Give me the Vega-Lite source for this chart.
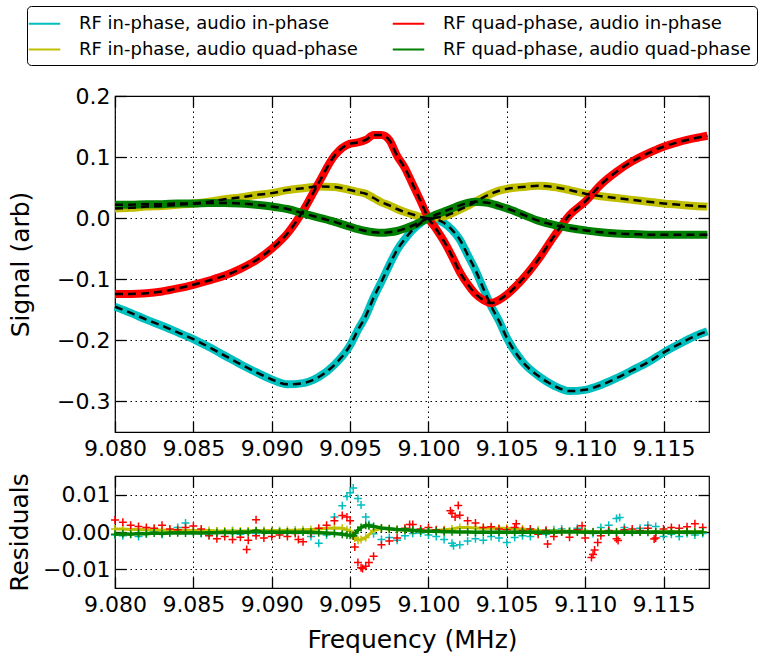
{
  "$schema": "https://vega.github.io/schema/vega-lite/v6.json",
  "padding": {"left": 6, "top": 4, "right": 0, "bottom": 0},
  "spacing": 12,
  "config": {
    "font": "DejaVu Sans",
    "view": {"stroke": "black", "strokeWidth": 1.2},
    "axis": {
      "labelFont": "DejaVu Sans", "titleFont": "DejaVu Sans",
      "labelFontSize": 22, "titleFontSize": 25, "titleFontWeight": "normal",
      "labelColor": "black", "titleColor": "black",
      "tickSize": -11, "tickColor": "black", "tickWidth": 1.3,
      "domain": false,
      "gridColor": "black", "gridDash": [1.5, 3.5], "gridOpacity": 1, "gridWidth": 1,
      "labelFlush": false, "labelOverlap": false, "labelBound": false
    },
    "legend": {"labelFont": "DejaVu Sans"}
  },
  "resolve": {"legend": {"color": "independent"}},
  "datasets": {
    "sig": [
      {"f": 9.080, "c": -0.145, "y": 0.016, "r": -0.124, "g": 0.022},
      {"f": 9.081, "c": -0.155, "y": 0.017, "r": -0.124, "g": 0.022},
      {"f": 9.082, "c": -0.166, "y": 0.019, "r": -0.123, "g": 0.023},
      {"f": 9.083, "c": -0.176, "y": 0.020, "r": -0.120, "g": 0.023},
      {"f": 9.084, "c": -0.187, "y": 0.022, "r": -0.115, "g": 0.024},
      {"f": 9.085, "c": -0.198, "y": 0.024, "r": -0.109, "g": 0.024},
      {"f": 9.086, "c": -0.211, "y": 0.027, "r": -0.102, "g": 0.025},
      {"f": 9.087, "c": -0.225, "y": 0.031, "r": -0.094, "g": 0.025},
      {"f": 9.088, "c": -0.239, "y": 0.034, "r": -0.083, "g": 0.024},
      {"f": 9.089, "c": -0.252, "y": 0.038, "r": -0.069, "g": 0.022},
      {"f": 9.090, "c": -0.264, "y": 0.041, "r": -0.050, "g": 0.019},
      {"f": 9.091, "c": -0.272, "y": 0.046, "r": -0.025, "g": 0.015},
      {"f": 9.092, "c": -0.270, "y": 0.049, "r": 0.012, "g": 0.008},
      {"f": 9.093, "c": -0.260, "y": 0.052, "r": 0.058, "g": 0.001},
      {"f": 9.094, "c": -0.240, "y": 0.051, "r": 0.102, "g": -0.006},
      {"f": 9.095, "c": -0.208, "y": 0.046, "r": 0.122, "g": -0.014},
      {"f": 9.0955, "c": -0.183, "y": 0.043, "r": 0.124, "g": -0.018},
      {"f": 9.096, "c": -0.160, "y": 0.040, "r": 0.128, "g": -0.021},
      {"f": 9.0965, "c": -0.130, "y": 0.033, "r": 0.136, "g": -0.023},
      {"f": 9.097, "c": -0.104, "y": 0.026, "r": 0.136, "g": -0.024},
      {"f": 9.0975, "c": -0.077, "y": 0.021, "r": 0.128, "g": -0.023},
      {"f": 9.098, "c": -0.052, "y": 0.015, "r": 0.102, "g": -0.021},
      {"f": 9.0985, "c": -0.034, "y": 0.010, "r": 0.082, "g": -0.017},
      {"f": 9.099, "c": -0.019, "y": 0.006, "r": 0.055, "g": -0.012},
      {"f": 9.0995, "c": -0.008, "y": 0.002, "r": 0.028, "g": -0.006},
      {"f": 9.100, "c": 0.000, "y": 0.000, "r": 0.000, "g": 0.000},
      {"f": 9.1005, "c": -0.002, "y": 0.001, "r": -0.018, "g": 0.006},
      {"f": 9.101, "c": -0.008, "y": 0.003, "r": -0.038, "g": 0.011},
      {"f": 9.1015, "c": -0.019, "y": 0.008, "r": -0.062, "g": 0.016},
      {"f": 9.102, "c": -0.035, "y": 0.014, "r": -0.088, "g": 0.021},
      {"f": 9.1025, "c": -0.060, "y": 0.020, "r": -0.108, "g": 0.025},
      {"f": 9.103, "c": -0.085, "y": 0.027, "r": -0.124, "g": 0.027},
      {"f": 9.1035, "c": -0.115, "y": 0.034, "r": -0.134, "g": 0.026},
      {"f": 9.104, "c": -0.144, "y": 0.040, "r": -0.139, "g": 0.024},
      {"f": 9.1045, "c": -0.168, "y": 0.045, "r": -0.134, "g": 0.020},
      {"f": 9.105, "c": -0.196, "y": 0.048, "r": -0.125, "g": 0.016},
      {"f": 9.106, "c": -0.235, "y": 0.051, "r": -0.100, "g": 0.006},
      {"f": 9.107, "c": -0.258, "y": 0.053, "r": -0.068, "g": -0.004},
      {"f": 9.108, "c": -0.274, "y": 0.051, "r": -0.030, "g": -0.011},
      {"f": 9.109, "c": -0.283, "y": 0.046, "r": 0.005, "g": -0.016},
      {"f": 9.110, "c": -0.281, "y": 0.040, "r": 0.027, "g": -0.020},
      {"f": 9.111, "c": -0.273, "y": 0.036, "r": 0.055, "g": -0.023},
      {"f": 9.112, "c": -0.262, "y": 0.033, "r": 0.076, "g": -0.025},
      {"f": 9.113, "c": -0.249, "y": 0.030, "r": 0.093, "g": -0.026},
      {"f": 9.114, "c": -0.236, "y": 0.027, "r": 0.106, "g": -0.027},
      {"f": 9.115, "c": -0.220, "y": 0.024, "r": 0.117, "g": -0.027},
      {"f": 9.116, "c": -0.206, "y": 0.022, "r": 0.125, "g": -0.027},
      {"f": 9.117, "c": -0.193, "y": 0.020, "r": 0.131, "g": -0.027},
      {"f": 9.1178, "c": -0.185, "y": 0.019, "r": 0.135, "g": -0.027}
    ],
    "res": [
      {"f": 9.0800, "c": -0.0008, "y": 0.0008, "r": 0.0032, "g": -0.0006},
      {"f": 9.0805, "c": -0.0010, "y": 0.0008, "r": 0.0026, "g": -0.0005},
      {"f": 9.0810, "c": -0.0005, "y": 0.0007, "r": 0.0018, "g": -0.0006},
      {"f": 9.0815, "c": -0.0012, "y": 0.0007, "r": 0.0015, "g": -0.0004},
      {"f": 9.0820, "c": -0.0004, "y": 0.0006, "r": 0.0012, "g": -0.0005},
      {"f": 9.0825, "c": 0.0003, "y": 0.0006, "r": 0.0010, "g": -0.0003},
      {"f": 9.0830, "c": -0.0006, "y": 0.0005, "r": 0.0018, "g": -0.0004},
      {"f": 9.0835, "c": 0.0002, "y": 0.0005, "r": 0.0008, "g": -0.0003},
      {"f": 9.0840, "c": 0.0012, "y": 0.0005, "r": 0.0006, "g": -0.0002},
      {"f": 9.0845, "c": 0.0024, "y": 0.0004, "r": 0.0012, "g": -0.0003},
      {"f": 9.0850, "c": 0.0005, "y": 0.0004, "r": 0.0016, "g": -0.0002},
      {"f": 9.0855, "c": -0.0004, "y": 0.0004, "r": 0.0008, "g": -0.0003},
      {"f": 9.0860, "c": -0.0008, "y": 0.0004, "r": -0.0010, "g": -0.0002},
      {"f": 9.0865, "c": 0.0003, "y": 0.0003, "r": -0.0018, "g": -0.0002},
      {"f": 9.0870, "c": -0.0002, "y": 0.0003, "r": -0.0012, "g": -0.0001},
      {"f": 9.0875, "c": 0.0004, "y": 0.0003, "r": -0.0020, "g": -0.0002},
      {"f": 9.0880, "c": -0.0006, "y": 0.0003, "r": -0.0014, "g": 0.0000},
      {"f": 9.0885, "c": 0.0002, "y": 0.0003, "r": -0.0022, "g": -0.0001},
      {"f": 9.0890, "c": -0.0004, "y": 0.0004, "r": -0.0010, "g": 0.0003},
      {"f": 9.0895, "c": 0.0003, "y": 0.0004, "r": -0.0016, "g": -0.0001},
      {"f": 9.0900, "c": -0.0003, "y": 0.0004, "r": -0.0012, "g": 0.0000},
      {"f": 9.0905, "c": 0.0002, "y": 0.0004, "r": -0.0008, "g": -0.0001},
      {"f": 9.0910, "c": -0.0001, "y": 0.0005, "r": -0.0012, "g": 0.0000},
      {"f": 9.0915, "c": 0.0004, "y": 0.0005, "r": -0.0004, "g": -0.0001},
      {"f": 9.0920, "c": 0.0002, "y": 0.0006, "r": -0.0026, "g": 0.0000},
      {"f": 9.0925, "c": -0.0012, "y": 0.0007, "r": -0.0004, "g": -0.0001},
      {"f": 9.0930, "c": -0.0030, "y": 0.0008, "r": 0.0010, "g": -0.0002},
      {"f": 9.0935, "c": -0.0008, "y": 0.0010, "r": 0.0018, "g": -0.0003},
      {"f": 9.0940, "c": 0.0040, "y": 0.0011, "r": 0.0030, "g": -0.0004},
      {"f": 9.0945, "c": 0.0070, "y": 0.0010, "r": 0.0044, "g": -0.0006},
      {"f": 9.0948, "c": 0.0095, "y": 0.0006, "r": 0.0040, "g": -0.0008},
      {"f": 9.0950, "c": 0.0105, "y": 0.0002, "r": 0.0030, "g": -0.0009},
      {"f": 9.0952, "c": 0.0118, "y": -0.0010, "r": -0.0010, "g": -0.0010},
      {"f": 9.0953, "y": -0.0016, "r": -0.0040},
      {"f": 9.0955, "c": 0.0090, "y": -0.0022, "r": -0.0082, "g": 0.0005},
      {"f": 9.0957, "c": 0.0072, "y": -0.0020, "r": -0.0096, "g": 0.0012},
      {"f": 9.0958, "r": -0.0098},
      {"f": 9.0960, "c": 0.0040, "y": -0.0015, "r": -0.0092, "g": 0.0018},
      {"f": 9.0962, "c": 0.0020, "r": -0.0082, "g": 0.0017},
      {"f": 9.0965, "c": -0.0005, "y": 0.0004, "r": -0.0065, "g": 0.0015},
      {"f": 9.0970, "c": -0.0020, "y": 0.0010, "r": -0.0034, "g": 0.0011},
      {"f": 9.0975, "c": -0.0015, "y": 0.0008, "r": -0.0024, "g": 0.0009},
      {"f": 9.0980, "c": -0.0022, "y": 0.0006, "r": -0.0016, "g": 0.0007},
      {"f": 9.0985, "c": -0.0010, "y": 0.0005, "r": 0.0010, "g": 0.0006},
      {"f": 9.0990, "c": -0.0004, "y": 0.0004, "r": 0.0020, "g": 0.0005},
      {"f": 9.0995, "c": -0.0003, "y": 0.0003, "r": 0.0008, "g": 0.0003},
      {"f": 9.1000, "c": -0.0008, "y": 0.0003, "r": 0.0012, "g": 0.0002},
      {"f": 9.1005, "c": -0.0012, "y": 0.0004, "r": 0.0006, "g": 0.0002},
      {"f": 9.1010, "c": -0.0020, "y": 0.0006, "r": 0.0004, "g": 0.0001},
      {"f": 9.1015, "c": -0.0030, "y": 0.0008, "r": 0.0050, "g": 0.0001},
      {"f": 9.1020, "c": -0.0034, "y": 0.0012, "r": 0.0045, "g": 0.0000},
      {"f": 9.1025, "c": -0.0024, "y": 0.0012, "r": 0.0030, "g": 0.0000},
      {"f": 9.1030, "c": -0.0018, "y": 0.0011, "r": 0.0024, "g": -0.0001},
      {"f": 9.1035, "c": -0.0022, "y": 0.0010, "r": 0.0012, "g": 0.0000},
      {"f": 9.1040, "c": -0.0012, "y": 0.0010, "r": 0.0014, "g": -0.0001},
      {"f": 9.1045, "c": -0.0016, "y": 0.0010, "r": 0.0008, "g": 0.0000},
      {"f": 9.1050, "c": -0.0028, "y": 0.0010, "r": 0.0006, "g": -0.0001},
      {"f": 9.1055, "c": -0.0015, "y": 0.0009, "r": 0.0012, "g": 0.0000},
      {"f": 9.1060, "c": -0.0010, "y": 0.0008, "r": 0.0004, "g": -0.0001},
      {"f": 9.1065, "c": -0.0012, "y": 0.0006, "r": 0.0008, "g": 0.0000},
      {"f": 9.1070, "c": 0.0004, "y": 0.0004, "r": -0.0006, "g": -0.0001},
      {"f": 9.1075, "c": -0.0006, "y": 0.0003, "r": 0.0005, "g": 0.0000},
      {"f": 9.1080, "c": 0.0006, "y": 0.0003, "r": -0.0012, "g": -0.0001},
      {"f": 9.1085, "c": 0.0008, "y": 0.0002, "r": 0.0002, "g": 0.0000},
      {"f": 9.1090, "c": 0.0002, "y": 0.0002, "r": -0.0014, "g": 0.0001},
      {"f": 9.1095, "c": 0.0010, "y": 0.0002, "r": 0.0006, "g": 0.0000},
      {"f": 9.1100, "c": 0.0004, "y": 0.0002, "r": -0.0016, "g": -0.0001},
      {"f": 9.1105, "c": -0.0004, "y": 0.0001, "r": -0.0060, "g": 0.0000},
      {"f": 9.1110, "c": 0.0012, "y": 0.0001, "r": -0.0010, "g": -0.0001},
      {"f": 9.1115, "c": 0.0018, "y": 0.0001, "r": 0.0004, "g": 0.0000},
      {"f": 9.1120, "c": 0.0036, "y": 0.0001, "r": -0.0018, "g": -0.0001},
      {"f": 9.1125, "c": 0.0012, "y": 0.0001, "r": 0.0006, "g": 0.0000},
      {"f": 9.1130, "c": 0.0002, "y": 0.0001, "r": 0.0008, "g": -0.0001},
      {"f": 9.1135, "c": 0.0010, "y": 0.0001, "r": 0.0004, "g": 0.0000},
      {"f": 9.1140, "c": 0.0018, "y": 0.0001, "r": 0.0010, "g": -0.0001},
      {"f": 9.1145, "c": 0.0015, "y": 0.0001, "r": -0.0016, "g": 0.0000},
      {"f": 9.1150, "c": -0.0012, "y": 0.0001, "r": 0.0008, "g": -0.0001},
      {"f": 9.1155, "c": -0.0006, "y": 0.0001, "r": 0.0012, "g": 0.0000},
      {"f": 9.1160, "c": -0.0012, "y": 0.0001, "r": 0.0010, "g": -0.0001},
      {"f": 9.1165, "c": -0.0004, "y": 0.0001, "r": 0.0014, "g": 0.0000},
      {"f": 9.1170, "c": -0.0008, "y": 0.0001, "r": 0.0022, "g": -0.0001},
      {"f": 9.1175, "c": -0.0004, "y": 0.0001, "r": 0.0012, "g": 0.0000},
      {"f": 9.0884, "r": -0.0047},
      {"f": 9.0890, "r": 0.0033},
      {"f": 9.0917, "r": -0.0020},
      {"f": 9.0988, "r": 0.0020},
      {"f": 9.1014, "r": 0.0057},
      {"f": 9.1017, "r": 0.0040},
      {"f": 9.1019, "r": 0.0071},
      {"f": 9.1056, "r": 0.0022},
      {"f": 9.1076, "r": -0.0032},
      {"f": 9.1098, "r": 0.0017},
      {"f": 9.1104, "r": -0.0068},
      {"f": 9.1106, "r": -0.0048},
      {"f": 9.1108, "r": -0.0028},
      {"f": 9.1121, "r": -0.0023},
      {"f": 9.1144, "r": -0.0019},
      {"f": 9.1016, "c": -0.0037},
      {"f": 9.1122, "c": 0.0039}
    ]
  },
  "vconcat": [
    {
      "width": 594,
      "height": 336,
      "data": {"name": "sig"},
      "transform": [{"fold": ["c", "y", "r", "g"], "as": ["series", "value"]}],
      "encoding": {
        "x": {"field": "f", "type": "quantitative",
          "scale": {"domain": [9.08, 9.1179], "nice": false, "zero": false},
          "axis": {"values": [9.08, 9.085, 9.09, 9.095, 9.1, 9.105, 9.11, 9.115], "format": ".3f", "title": null, "grid": true, "labelPadding": 17}},
        "y": {"field": "value", "type": "quantitative",
          "scale": {"domain": [-0.35, 0.2], "nice": false, "zero": false},
          "axis": {"values": [-0.3, -0.2, -0.1, 0, 0.1, 0.2], "format": ".1f", "title": "Signal (arb)", "grid": true, "labelPadding": 16, "titlePadding": 23}}
      },
      "layer": [
        {
          "mark": {"type": "line", "strokeWidth": 8, "interpolate": "monotone"},
          "encoding": {
            "color": {"field": "series", "type": "nominal",
              "scale": {"domain": ["c", "y", "r", "g"], "range": ["#00BFBF", "#BFBF00", "#FF0000", "#008000"]},
              "legend": {
                "orient": "none", "legendX": -88, "legendY": -90, "columns": 2, "title": null,
                "labelExpr": "datum.label == 'c' ? 'RF in-phase, audio in-phase' : datum.label == 'r' ? 'RF quad-phase, audio in-phase' : datum.label == 'y' ? 'RF in-phase, audio quad-phase' : 'RF quad-phase, audio quad-phase'",
                "labelFontSize": 18, "labelLimit": 400, "labelColor": "black", "labelOffset": 23,
                "symbolType": "M-1.5,0H1.5", "symbolSize": 441, "symbolStrokeWidth": 2,
                "strokeColor": "black", "fillColor": "white", "padding": 6, "cornerRadius": 4,
                "columnPadding": 30, "rowPadding": 5
              }}
          }
        },
        {
          "mark": {"type": "line", "strokeWidth": 2.5, "color": "black", "strokeDash": [8, 5], "interpolate": "monotone"},
          "encoding": {
            "detail": {"field": "series"},
            "x": {"field": "f", "type": "quantitative",
              "scale": {"domain": [9.08, 9.1179], "nice": false, "zero": false},
              "axis": {"orient": "top", "labels": false, "title": null, "grid": false, "values": [9.08, 9.085, 9.09, 9.095, 9.1, 9.105, 9.11, 9.115]}},
            "y": {"field": "value", "type": "quantitative",
              "scale": {"domain": [-0.35, 0.2], "nice": false, "zero": false},
              "axis": {"orient": "right", "labels": false, "title": null, "grid": false, "values": [-0.3, -0.2, -0.1, 0, 0.1, 0.2]}}
          }
        }
      ],
      "resolve": {"axis": {"x": "independent", "y": "independent"}}
    },
    {
      "width": 594,
      "height": 112,
      "data": {"name": "res"},
      "transform": [
        {"fold": ["c", "y", "r", "g"], "as": ["series", "value"]},
        {"filter": "datum.value != null"}
      ],
      "layer": [
        {
          "encoding": {
            "x": {"field": "f", "type": "quantitative",
              "scale": {"domain": [9.08, 9.1179], "nice": false, "zero": false},
              "axis": {"values": [9.08, 9.085, 9.09, 9.095, 9.1, 9.105, 9.11, 9.115], "format": ".3f", "title": "Frequency (MHz)", "grid": true, "labelPadding": 17, "titlePadding": 12}},
            "y": {"field": "value", "type": "quantitative",
              "scale": {"domain": [-0.015, 0.015], "nice": false, "zero": false},
              "axis": {"values": [-0.01, 0, 0.01], "format": ".2f", "title": "Residuals", "grid": true, "labelPadding": 16, "titlePadding": 10}},
            "color": {"field": "series", "type": "nominal",
              "scale": {"domain": ["c", "y", "r", "g"], "range": ["#00BFBF", "#BFBF00", "#FF0000", "#008000"]},
              "legend": null}
          },
          "layer": [
            {"transform": [{"filter": "datum.series == 'c'"}],
             "mark": {"type": "point", "shape": "M-1,0H1M0,-1V1", "filled": false, "size": 64, "strokeWidth": 1.5, "opacity": 1}},
            {"transform": [{"filter": "datum.series == 'y'"}],
             "mark": {"type": "line", "strokeWidth": 3}},
            {"transform": [{"filter": "datum.series == 'y'"}],
             "mark": {"type": "point", "shape": "M-1,0H1M0,-1V1", "filled": false, "size": 64, "strokeWidth": 1.5, "opacity": 1}},
            {"transform": [{"filter": "datum.series == 'r'"}],
             "mark": {"type": "point", "shape": "M-1,0H1M0,-1V1", "filled": false, "size": 64, "strokeWidth": 1.5, "opacity": 1}}
          ]
        },
        {
          "transform": [{"filter": "datum.series == 'g'"}],
          "encoding": {
            "x": {"field": "f", "type": "quantitative",
              "scale": {"domain": [9.08, 9.1179], "nice": false, "zero": false},
              "axis": {"orient": "top", "labels": false, "title": null, "grid": false, "values": [9.08, 9.085, 9.09, 9.095, 9.1, 9.105, 9.11, 9.115]}},
            "y": {"field": "value", "type": "quantitative",
              "scale": {"domain": [-0.015, 0.015], "nice": false, "zero": false},
              "axis": {"orient": "right", "labels": false, "title": null, "grid": false, "values": [-0.01, 0, 0.01]}},
            "color": {"field": "series", "type": "nominal",
              "scale": {"domain": ["c", "y", "r", "g"], "range": ["#00BFBF", "#BFBF00", "#FF0000", "#008000"]},
              "legend": null}
          },
          "layer": [
            {"mark": {"type": "line", "strokeWidth": 3.5}},
            {"mark": {"type": "point", "shape": "M-1,0H1M0,-1V1", "filled": false, "size": 64, "strokeWidth": 1.5, "opacity": 1}}
          ]
        }
      ],
      "resolve": {"axis": {"x": "independent", "y": "independent"}}
    }
  ]
}
